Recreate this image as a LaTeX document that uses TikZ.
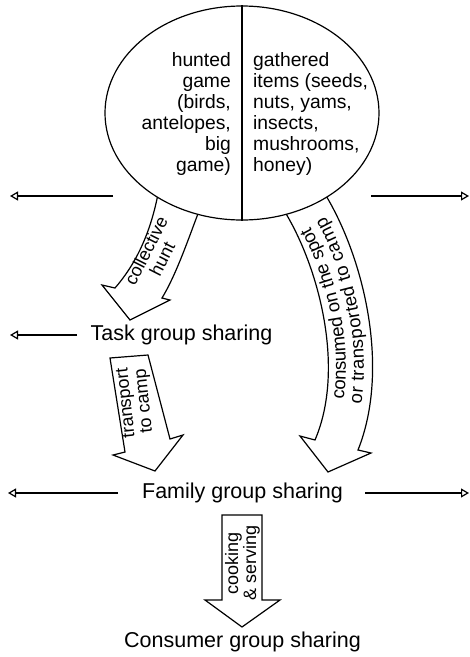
\documentclass[tikz,border=0pt]{standalone}
\usepackage{fontspec}
\setmainfont{Liberation Sans}
\usetikzlibrary{arrows.meta,shapes.geometric,decorations.text}
\begin{document}
\begin{tikzpicture}[x=1pt,y=-1pt,
  line/.style={line width=1.2pt},
  flow/.style={draw, line width=1.2pt, fill=white, line join=miter},
  side/.style={line width=1.2pt, -{Triangle[open,length=8pt,width=9pt]}},
  big/.style={font=\fontsize{21.5}{24}\selectfont, inner sep=0pt},
  food/.style={font=\fontsize{19.3}{21}\selectfont, inner sep=0pt},
  lab/.style={font=\fontsize{18}{18}\selectfont, align=center, inner sep=0pt}]
\useasboundingbox (0,0) rectangle (470,657);

% block arrows
\draw[flow] (158,194) .. controls (150,235) and (135,265) .. (115,288)
  -- (102,285) -- (130,320) -- (170,300) -- (162,298)
  .. controls (176,275) and (188,240) .. (199,211) -- cycle;
\draw[flow] (285,212) .. controls (320,270) and (345,370) .. (315,440)
  -- (300,436) -- (328,472) -- (371,453) -- (358,450)
  .. controls (390,370) and (365,260) .. (325,194) -- cycle;
\draw[flow] (110,358) -- (148,355) -- (170,439) -- (183,435) -- (155,471)
  -- (113,455) -- (125,452) -- cycle;
\draw[flow] (222,515) -- (262,515) -- (262,600) -- (280,600) -- (242,627)
  -- (205,600) -- (222,600) -- cycle;

% source ellipse
\node[draw, ellipse, line width=1.2pt, fill=white, minimum width=274pt,
  minimum height=214pt, inner sep=0pt] (source) at (242,113) {};
\draw[line] (source.north) -- (source.south);
\node[food, anchor=east, align=right] (hunted) at (231,114)
  {hunted\\game\\(birds,\\antelopes,\\big\\game)};
\node[food, anchor=west, align=left] (gathered) at (253,114)
  {gathered\\items (seeds,\\nuts, yams,\\insects,\\mushrooms,\\honey)};

% levels
\node[big] (task) at (181.5,335) {Task group sharing};
\node[big] (family) at (242.5,493) {Family group sharing};
\node[big] (consumer) at (242.5,642) {Consumer group sharing};

% side arrows
\coordinate (tl1) at (113,196); \coordinate (tl2) at (10,196);
\coordinate (tr1) at (371,196); \coordinate (tr2) at (469,196);
\coordinate (ml1) at (77,335);  \coordinate (ml2) at (10,335);
\coordinate (bl1) at (118,493); \coordinate (bl2) at (8,493);
\coordinate (br1) at (365,493); \coordinate (br2) at (469,493);
\draw[side] (tl1) -- (tl2);
\draw[side] (tr1) -- (tr2);
\draw[side] (ml1) -- (ml2);
\draw[side] (bl1) -- (bl2);
\draw[side] (br1) -- (br2);

% arrow labels
\node[lab, rotate=63] (collab) at (154,255) {collective\\hunt};
\node[lab, rotate=96] (translab) at (136,402) {transport\\to camp};
\node[lab, rotate=90] (cooklab) at (242.5,563) {cooking\\\& serving};
\path[decorate, decoration={text along path, text align=center, raise=4.5pt,
  text={|\fontsize{18.5}{18}\selectfont|consumed on the spot}}]
  (336.5,443.5) .. controls (367.5,370) and (342.5,265) .. (304,208) -- (290,187);
\path[decorate, decoration={text along path, text align=center, raise=-13.5pt,
  text={|\fontsize{18.5}{18}\selectfont|or transported to camp}}]
  (336.5,443.5) .. controls (367.5,370) and (342.5,265) .. (304,208) -- (290,187);
\end{tikzpicture}
\end{document}
